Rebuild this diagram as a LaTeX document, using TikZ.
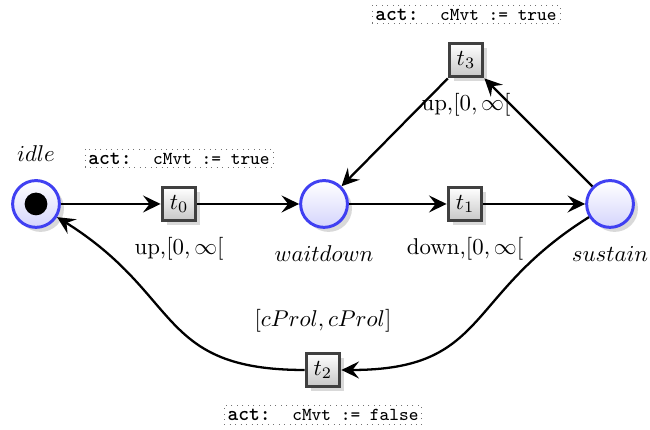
\documentclass[tikz,border=0pt]{standalone}
\usepackage{amsmath}
\usepackage{amssymb}
\usepackage{tikz}
\usetikzlibrary{arrows.meta}
\usetikzlibrary{shadows}
\definecolor{mblue}{rgb}{0.25, 0.25, 0.95}
\definecolor{mgray}{rgb}{0.25, 0.25, 0.25}

\begin{document}
\begin{tikzpicture}[>={Stealth[length=2.7mm, width=2.6mm, inset=1mm]}, line width=1pt,
    place/.style={circle, draw=mblue, line width=1.3pt, top color=white, bottom color=mblue!22, minimum size=7.2mm, inner sep=0pt, drop shadow={opacity=0.3, shadow xshift=0.7mm, shadow yshift=-0.7mm}},
    transition/.style={rectangle, draw=mgray, line width=1.6pt, top color=white, bottom color=black!22, minimum size=5.1mm, inner sep=0pt, drop shadow={opacity=0.3, shadow xshift=0.7mm, shadow yshift=-0.7mm}},
    token/.style={circle, fill=black, minimum size=3.5mm, inner sep=0pt},
    act/.style={draw=black!55, dotted, line width=0.4pt, inner sep=1.5pt, font=\ttfamily},
    guard/.style={label distance=0.1cm}]
          \useasboundingbox (0, 0) rectangle (10, 6.615);

          \node [place, label={[label distance=0.14cm]above:$idle$}] (idle) at (0.554, 3.477) {};
          \node [token] (idletok) at (idle) {};
          \node [place, label={[label distance=0.13cm]below:$waitdown$}] (waitdown) at (4.985, 3.477) {};
          \node [place, label={[label distance=0.13cm]below:$sustain$}] (sustain) at (9.385, 3.477) {};

          \node [transition, label={[guard]below:{up,$[0,\infty[$}}, label={[act, label distance=0.27cm]above:{\small\textbf{act:}~~\footnotesize cMvt := true}}] (t0) at (2.754, 3.477) {$t_0$};
          \node [transition, label={[guard]below:{down,$[0,\infty[$}}] (t1) at (7.154, 3.477) {$t_1$};
          \node [transition, label={[guard]below:{up,$[0,\infty[$}}, label={[act, label distance=0.27cm]above:{\small\textbf{act:}~~\footnotesize cMvt := true}}] (t3) at (7.169, 5.692) {$t_3$};
          \node [transition, label={[label distance=0.16cm]above:{$[cProl,cProl]$}}, label={[act, label distance=0.26cm]below:{\small\textbf{act:}~~\footnotesize cMvt := false}}] (t2) at (4.969, 0.923) {$t_2$};

          \draw [->] (idle) -- (t0);
          \draw [->] (t0) -- (waitdown);
          \draw [->] (waitdown) -- (t1);
          \draw [->] (t1) -- (sustain);
          \draw [->] (sustain) -- (t3);
          \draw [->] (t3) -- (waitdown);
          \draw [->] (sustain) to [out=212, in=0, looseness=1.3] (t2);
          \draw [->] (t2) to [out=180, in=-32, looseness=1.3] (idle);
        \end{tikzpicture}
\end{document}
